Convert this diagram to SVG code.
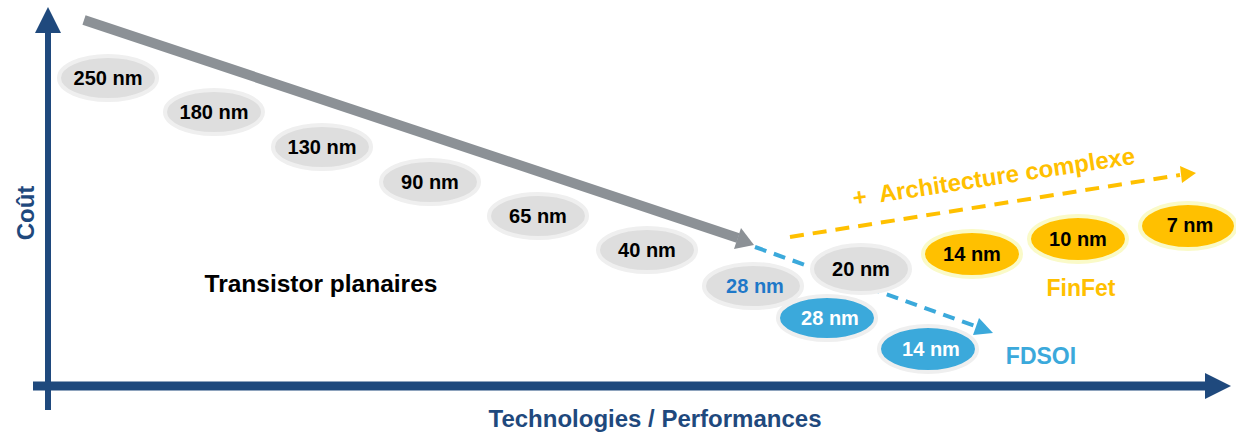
<svg xmlns="http://www.w3.org/2000/svg" width="1236" height="434" viewBox="0 0 1236 434">
<defs>
<style>
.lbl{font-family:"Liberation Sans",Arial,sans-serif;font-weight:bold;font-size:20px;text-anchor:middle;dominant-baseline:central}
.g ellipse{fill:#DEDEDE;stroke:#EFEFEF;stroke-width:4}
.b ellipse{fill:#3BA9DB;stroke:#EFEFEF;stroke-width:4}
.o ellipse{fill:#FFC000;stroke:#FAFAC8;stroke-width:4}
.ax{font-family:"Liberation Sans",Arial,sans-serif;font-weight:bold;font-size:24px;fill:#1F497D;text-anchor:middle}
</style>
</defs>
<rect width="1236" height="434" fill="#FFFFFF"/>
<g id="axes">
<line x1="48" y1="410" x2="48" y2="30" stroke="#1F497D" stroke-width="6"/>
<polygon points="48,7 61,33 35,33" fill="#1F497D"/>
<line x1="33" y1="386" x2="1208" y2="386" stroke="#1F497D" stroke-width="9"/>
<polygon points="1231,386 1205,373 1205,399" fill="#1F497D"/>
<text class="ax" transform="translate(34,213) rotate(-90)">Coût</text>
<text class="ax" x="655" y="427">Technologies / Performances</text>
</g>
<g id="connectors">
<line x1="84" y1="20" x2="738" y2="238" stroke="#8C9196" stroke-width="10"/>
<polygon points="754,245 734,249 741,228" fill="#8C9196"/>
<line x1="755" y1="247" x2="978" y2="327" stroke="#3BA9DB" stroke-width="4" stroke-dasharray="12,8"/>
<polygon points="993,333 973,335 979,318" fill="#3BA9DB"/>
<line x1="790" y1="237" x2="1180" y2="175" stroke="#FFC000" stroke-width="4" stroke-dasharray="14,9"/>
<polygon points="1196,173 1180,166 1182,183" fill="#FFC000"/>
</g>
<g id="n250" class="g"><ellipse cx="108" cy="78" rx="49" ry="22"/><text class="lbl" x="108" y="78">250 nm</text></g>
<g id="n180" class="g"><ellipse cx="214" cy="112" rx="49" ry="22"/><text class="lbl" x="214" y="112">180 nm</text></g>
<g id="n130" class="g"><ellipse cx="322" cy="147" rx="49" ry="22"/><text class="lbl" x="322" y="147">130 nm</text></g>
<g id="n90" class="g"><ellipse cx="430" cy="182" rx="49" ry="22"/><text class="lbl" x="430" y="182">90 nm</text></g>
<g id="n65" class="g"><ellipse cx="538" cy="216" rx="49" ry="22"/><text class="lbl" x="538" y="216">65 nm</text></g>
<g id="n40" class="g"><ellipse cx="647" cy="250" rx="49" ry="22"/><text class="lbl" x="647" y="250">40 nm</text></g>
<g id="n28p" class="g"><ellipse cx="753" cy="286" rx="49" ry="22"/><text class="lbl" x="755" y="286" fill="#1F78C8">28 nm</text></g>
<g id="n20" class="g"><ellipse cx="861" cy="269" rx="49" ry="24"/><text class="lbl" x="861" y="269">20 nm</text></g>
<g id="n28f" class="b"><ellipse cx="827" cy="318" rx="49" ry="22"/><text class="lbl" x="830" y="318" fill="#FFFFFF">28 nm</text></g>
<g id="n14f" class="b"><ellipse cx="928" cy="349" rx="49" ry="23"/><text class="lbl" x="931" y="349" fill="#FFFFFF">14 nm</text></g>
<g id="n14ff" class="o"><ellipse cx="972" cy="254" rx="49" ry="23"/><text class="lbl" x="972" y="254">14 nm</text></g>
<g id="n10" class="o"><ellipse cx="1078" cy="239" rx="49" ry="23"/><text class="lbl" x="1078" y="239">10 nm</text></g>
<g id="n7" class="o"><ellipse cx="1188" cy="226" rx="48" ry="23"/><text class="lbl" x="1190" y="225">7 nm</text></g>
<g id="labels" font-family="Liberation Sans, Arial, sans-serif" font-weight="bold">
<text x="321" y="292" font-size="24.5" text-anchor="middle" fill="#000000">Transistor planaires</text>
<text x="1081" y="296" font-size="23" text-anchor="middle" fill="#FFC000">FinFet</text>
<text x="1041" y="364" font-size="23" text-anchor="middle" fill="#3BA9DB">FDSOI</text>
<text x="0" y="0" font-size="24" text-anchor="middle" fill="#FFC000" xml:space="preserve" transform="translate(995,185) rotate(-8.6)">+  Architecture complexe</text>
</g>
</svg>
